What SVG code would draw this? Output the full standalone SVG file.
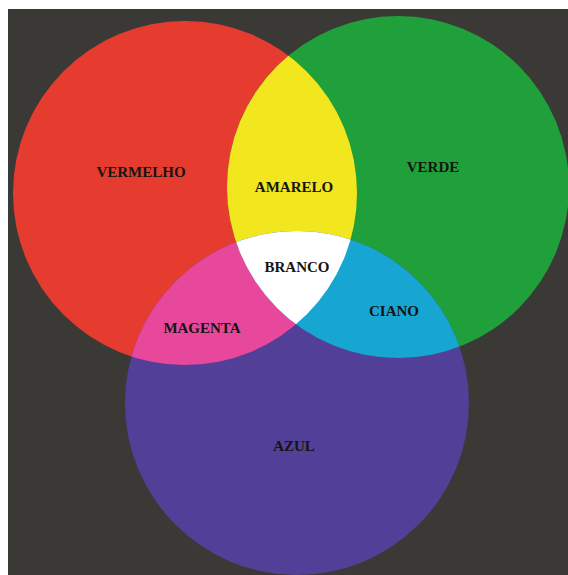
<svg xmlns="http://www.w3.org/2000/svg" width="568" height="575" viewBox="0 0 568 575">
  <style>
    .lbl { font-family: "Liberation Serif", "Times New Roman", serif; font-weight: bold; font-size: 15px; fill: #161412; text-anchor: middle; }
  </style>
  <defs>
    <circle id="cR" cx="185" cy="193" r="172"/>
    <circle id="cG" cx="398" cy="187" r="171"/>
    <circle id="cB" cx="297" cy="403" r="172"/>
    <clipPath id="clipR"><use href="#cR"/></clipPath>
    <clipPath id="clipG"><use href="#cG"/></clipPath>
    <clipPath id="clipB"><use href="#cB"/></clipPath>
  </defs>
  <rect x="0" y="0" width="568" height="575" fill="#ffffff"/>
  <rect x="8" y="9" width="560" height="566" fill="#3b3936"/>

  <g id="vermelho">
    <use href="#cR" fill="#e63c2f"/>
  </g>
  <g id="verde">
    <use href="#cG" fill="#20a03a"/>
  </g>
  <g id="azul">
    <use href="#cB" fill="#523f97"/>
  </g>
  <g id="amarelo" clip-path="url(#clipR)">
    <use href="#cG" fill="#f2e61e"/>
  </g>
  <g id="magenta" clip-path="url(#clipR)">
    <use href="#cB" fill="#e8489b"/>
  </g>
  <g id="ciano" clip-path="url(#clipG)">
    <use href="#cB" fill="#17a6d2"/>
  </g>
  <g id="branco" clip-path="url(#clipR)">
    <g clip-path="url(#clipG)">
      <use href="#cB" fill="#ffffff"/>
    </g>
  </g>

  <g id="labels">
    <text class="lbl" x="141" y="177">VERMELHO</text>
    <text class="lbl" x="294" y="192">AMARELO</text>
    <text class="lbl" x="433" y="172">VERDE</text>
    <text class="lbl" x="297" y="272">BRANCO</text>
    <text class="lbl" x="394" y="316">CIANO</text>
    <text class="lbl" x="202" y="333">MAGENTA</text>
    <text class="lbl" x="294" y="451">AZUL</text>
  </g>
</svg>
